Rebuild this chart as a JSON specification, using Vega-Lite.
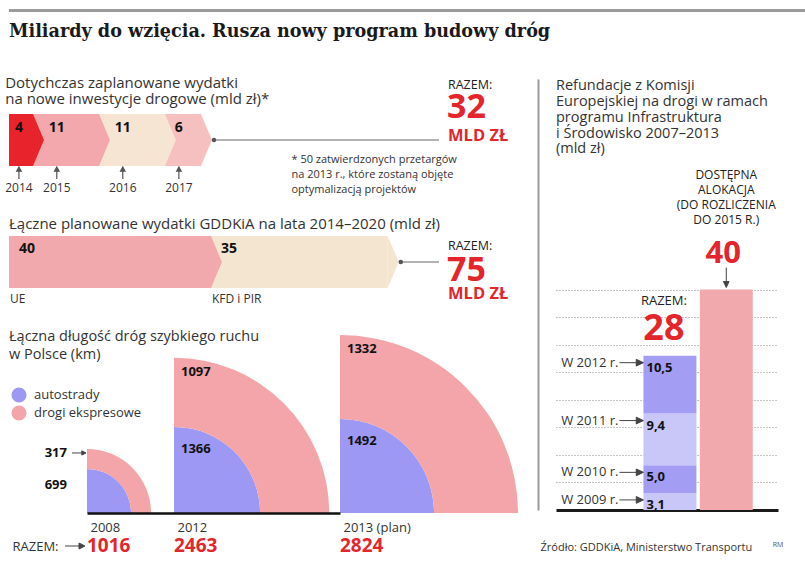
{
  "$schema": "https://vega.github.io/schema/vega-lite/v6.json",
  "padding": {"left": 5, "top": 9, "right": 0, "bottom": 12},
  "background": "white",
  "config": {
    "font": "Open Sans",
    "view": {"stroke": null},
    "title": {"anchor": "start", "font": "Open Sans", "fontWeight": "normal", "color": "#333333", "fontSize": 15},
    "text": {"font": "Open Sans"}
  },
  "datasets": {
    "wydatki2014": [
      {"rok": "2014", "mld": 4, "okres": "2014–2017"},
      {"rok": "2015", "mld": 11, "okres": "2014–2017"},
      {"rok": "2016", "mld": 11, "okres": "2014–2017"},
      {"rok": "2017", "mld": 6, "okres": "2014–2017"}
    ],
    "razem2014": [{"okres": "2014–2017", "razem": 32, "etykieta": "RAZEM:", "jednostka": "MLD ZŁ"}],
    "gddkia": [
      {"zrodlo": "UE", "mld": 40, "kolejnosc": 1, "okres": "2014–2020"},
      {"zrodlo": "KFD i PIR", "mld": 35, "kolejnosc": 2, "okres": "2014–2020"}
    ],
    "razemGddkia": [{"okres": "2014–2020", "razem": 75, "etykieta": "RAZEM:", "jednostka": "MLD ZŁ"}],
    "drogi": [
      {"rok": 2008, "typ": "autostrady", "km": 699},
      {"rok": 2008, "typ": "drogi ekspresowe", "km": 317},
      {"rok": 2012, "typ": "autostrady", "km": 1366},
      {"rok": 2012, "typ": "drogi ekspresowe", "km": 1097},
      {"rok": 2013, "typ": "autostrady", "km": 1492},
      {"rok": 2013, "typ": "drogi ekspresowe", "km": 1332}
    ],
    "refundacje": [
      {"kategoria": "Zrefundowane", "okres": "W 2009 r.", "wartosc": 3.1, "etykieta": "3,1", "kolejnosc": 1},
      {"kategoria": "Zrefundowane", "okres": "W 2010 r.", "wartosc": 5.0, "etykieta": "5,0", "kolejnosc": 2},
      {"kategoria": "Zrefundowane", "okres": "W 2011 r.", "wartosc": 9.4, "etykieta": "9,4", "kolejnosc": 3},
      {"kategoria": "Zrefundowane", "okres": "W 2012 r.", "wartosc": 10.5, "etykieta": "10,5", "kolejnosc": 4},
      {"kategoria": "Dostępna alokacja", "okres": "Dostępna alokacja", "wartosc": 40, "etykieta": "40", "kolejnosc": 1}
    ],
    "razemRefundacje": [{"kategoria": "Zrefundowane", "razem": 28, "etykieta": "RAZEM:"}],
    "alokacja": [{"kategoria": "Dostępna alokacja", "kwota": 40, "opis": "DOSTĘPNA\nALOKACJA\n(DO ROZLICZENIA\nDO 2015 R.)", "autor": "RM"}]
  },
  "bounds": "flush",
  "spacing": 67,
  "resolve": {"scale": {"color": "independent", "radius": "independent"}, "legend": {"color": "independent"}},
  "vconcat": [
    {
      "width": 799,
      "height": 3,
      "data": {"values": [{"linia": "nagłówek"}]},
      "view": {"fill": "#9b9b9b", "stroke": null},
      "mark": {"type": "rect", "color": "#9b9b9b"},
      "encoding": {},
      "title": {"text": "Miliardy do wzięcia. Rusza nowy program budowy dróg", "orient": "bottom", "anchor": "start", "font": "DejaVu Serif", "fontSize": 17.6, "fontWeight": "bold", "color": "#1a1a1a", "offset": 11, "baseline": "top"}
    },
    {
      "bounds": "full",
      "spacing": 19,
      "resolve": {"scale": {"color": "independent", "radius": "independent"}, "legend": {"color": "independent"}},
      "hconcat": [
        {
          "bounds": "flush",
          "spacing": 70,
          "resolve": {"scale": {"color": "independent", "radius": "independent"}, "legend": {"color": "independent"}},
          "vconcat": [
            {
              "width": 439,
              "height": 87,
              "title": {"text": ["Dotychczas zaplanowane wydatki", "na nowe inwestycje drogowe (mld zł)*"], "offset": -28, "lineHeight": 16, "fontSize": 15},
              "layer": [
                {
                  "data": {"name": "wydatki2014"},
                  "mark": {"type": "bar"},
                  "encoding": {
                    "x": {"field": "mld", "type": "quantitative", "stack": "zero", "scale": {"domain": [0, 73.17], "nice": false, "zero": true},
                      "axis": {"title": ["* 50 zatwierdzonych przetargów", "na 2013 r., które zostaną objęte", "optymalizacją projektów"], "labels": false, "ticks": false, "domain": false, "grid": false, "titleX": 282, "titleY": -13, "titleAlign": "left", "titleAnchor": "start", "titleBaseline": "top", "titleFontSize": 11, "titleFontWeight": "normal", "titleLineHeight": 15, "titleColor": "#333333", "titlePadding": 0}},
                    "y": {"field": "okres", "type": "nominal", "scale": {"paddingInner": 0, "paddingOuter": 0.3365, "align": 1}, "axis": null},
                    "color": {"field": "rok", "type": "nominal", "scale": {"domain": ["2014", "2015", "2016", "2017"], "range": ["#e8232b", "#f2a8ac", "#f5e5d2", "#f6bfc0"]}, "legend": null},
                    "order": {"field": "rok"}
                  }
                },
                {
                  "data": {"name": "wydatki2014"},
                  "mark": {"type": "point", "shape": "M0,-1L0.42,0L0,1Z", "size": 2704, "filled": true, "opacity": 1, "strokeWidth": 0},
                  "encoding": {
                    "x": {"field": "mld", "type": "quantitative", "stack": "zero"},
                    "y": {"field": "okres", "type": "nominal", "bandPosition": 0.5, "axis": null},
                    "color": {"field": "rok", "type": "nominal", "legend": null},
                    "order": {"field": "rok"}
                  }
                },
                {
                  "data": {"name": "wydatki2014"},
                  "mark": {"type": "text", "dx": 2, "dy": -12, "fontWeight": "bold", "fontSize": 14, "color": "#111111", "align": "center", "baseline": "middle"},
                  "encoding": {
                    "x": {"field": "mld", "type": "quantitative", "stack": "zero", "bandPosition": 0.33},
                    "y": {"field": "okres", "type": "nominal", "bandPosition": 0.5, "axis": null},
                    "detail": {"field": "rok"},
                    "order": {"field": "rok"},
                    "text": {"field": "mld", "type": "quantitative"}
                  }
                },
                {
                  "data": {"name": "wydatki2014"},
                  "mark": {"type": "text", "dx": 2, "dy": 48.5, "fontSize": 12, "color": "#333333", "align": "center", "baseline": "middle"},
                  "encoding": {
                    "x": {"field": "mld", "type": "quantitative", "stack": "zero", "bandPosition": 0.33},
                    "y": {"field": "okres", "type": "nominal", "bandPosition": 0.5, "axis": null},
                    "detail": {"field": "rok"},
                    "order": {"field": "rok"},
                    "text": {"field": "rok", "type": "nominal"}
                  }
                },
                {
                  "data": {"name": "wydatki2014"},
                  "mark": {"type": "point", "shape": "M0,1L0,-0.4M-0.38,-0.3L0,-1L0.38,-0.3Z", "size": 144, "filled": true, "opacity": 1, "color": "#555555", "stroke": "#555555", "strokeWidth": 1.2, "xOffset": 2, "yOffset": 33},
                  "encoding": {
                    "x": {"field": "mld", "type": "quantitative", "stack": "zero", "bandPosition": 0.33},
                    "y": {"field": "okres", "type": "nominal", "bandPosition": 0.5, "axis": null},
                    "detail": {"field": "rok"},
                    "order": {"field": "rok"}
                  }
                },
                {
                  "data": {"name": "razem2014"},
                  "mark": {"type": "rule", "color": "#666666", "strokeWidth": 1.2, "xOffset": 13, "x2Offset": -9},
                  "encoding": {
                    "x": {"field": "razem", "type": "quantitative"},
                    "x2": {"value": "width"},
                    "y": {"field": "okres", "type": "nominal", "bandPosition": 0.5, "axis": null}
                  }
                },
                {
                  "data": {"name": "razem2014"},
                  "mark": {"type": "point", "filled": true, "opacity": 1, "size": 20, "color": "#555555", "xOffset": 13},
                  "encoding": {
                    "x": {"field": "razem", "type": "quantitative"},
                    "y": {"field": "okres", "type": "nominal", "bandPosition": 0.5, "axis": null}
                  }
                },
                {
                  "data": {"name": "razem2014"},
                  "mark": {"type": "text", "align": "left", "baseline": "middle", "dy": -55, "fontSize": 12.5, "color": "#222222"},
                  "encoding": {
                    "x": {"value": "width"},
                    "y": {"field": "okres", "type": "nominal", "bandPosition": 0.5, "axis": null},
                    "text": {"field": "etykieta"}
                  }
                },
                {
                  "data": {"name": "razem2014"},
                  "mark": {"type": "text", "align": "left", "baseline": "middle", "dy": -31.5, "dx": -1, "fontSize": 34, "fontWeight": "bold", "color": "#e4252b"},
                  "encoding": {
                    "x": {"value": "width"},
                    "y": {"field": "okres", "type": "nominal", "bandPosition": 0.5, "axis": null},
                    "text": {"field": "razem", "type": "quantitative"}
                  }
                },
                {
                  "data": {"name": "razem2014"},
                  "mark": {"type": "text", "align": "left", "baseline": "middle", "dy": -4, "fontSize": 16.5, "fontWeight": "bold", "color": "#e4252b"},
                  "encoding": {
                    "x": {"value": "width"},
                    "y": {"field": "okres", "type": "nominal", "bandPosition": 0.5, "axis": null},
                    "text": {"field": "jednostka"}
                  }
                }
              ]
            },
            {
              "width": 439,
              "height": 52,
              "title": {"text": "Łączne planowane wydatki GDDKiA na lata 2014–2020 (mld zł)", "offset": 4, "fontSize": 15},
              "layer": [
                {
                  "data": {"name": "gddkia"},
                  "mark": {"type": "bar"},
                  "encoding": {
                    "x": {"field": "mld", "type": "quantitative", "stack": "zero", "scale": {"domain": [0, 86.93], "nice": false, "zero": true}, "axis": null},
                    "y": {"field": "okres", "type": "nominal", "scale": {"paddingInner": 0, "paddingOuter": 0}, "axis": null},
                    "color": {"field": "zrodlo", "type": "nominal", "scale": {"domain": ["UE", "KFD i PIR"], "range": ["#f2a9ae", "#f4e5d1"]}, "legend": null},
                    "order": {"field": "kolejnosc"}
                  }
                },
                {
                  "data": {"name": "gddkia"},
                  "mark": {"type": "point", "shape": "M0,-1L0.42,0L0,1Z", "size": 2704, "filled": true, "opacity": 1, "strokeWidth": 0},
                  "encoding": {
                    "x": {"field": "mld", "type": "quantitative", "stack": "zero", "axis": null},
                    "y": {"field": "okres", "type": "nominal", "bandPosition": 0.5, "axis": null},
                    "color": {"field": "zrodlo", "type": "nominal", "legend": null},
                    "order": {"field": "kolejnosc"}
                  }
                },
                {
                  "data": {"name": "gddkia"},
                  "mark": {"type": "text", "align": "left", "baseline": "middle", "dx": 10, "dy": -13, "fontWeight": "bold", "fontSize": 14, "color": "#111111"},
                  "encoding": {
                    "x": {"field": "mld", "type": "quantitative", "stack": "zero", "bandPosition": 0, "axis": null},
                    "y": {"field": "okres", "type": "nominal", "bandPosition": 0.5, "axis": null},
                    "detail": {"field": "zrodlo"},
                    "order": {"field": "kolejnosc"},
                    "text": {"field": "mld", "type": "quantitative"}
                  }
                },
                {
                  "data": {"name": "gddkia"},
                  "mark": {"type": "text", "align": "left", "baseline": "middle", "dx": 1, "dy": 37, "fontSize": 12, "color": "#333333"},
                  "encoding": {
                    "x": {"field": "mld", "type": "quantitative", "stack": "zero", "bandPosition": 0, "axis": null},
                    "y": {"field": "okres", "type": "nominal", "bandPosition": 0.5, "axis": null},
                    "detail": {"field": "zrodlo"},
                    "order": {"field": "kolejnosc"},
                    "text": {"field": "zrodlo"}
                  }
                },
                {
                  "data": {"name": "razemGddkia"},
                  "mark": {"type": "rule", "color": "#666666", "strokeWidth": 1.2, "xOffset": 13, "x2Offset": -9},
                  "encoding": {
                    "x": {"field": "razem", "type": "quantitative", "axis": null},
                    "x2": {"value": "width"},
                    "y": {"field": "okres", "type": "nominal", "bandPosition": 0.5, "axis": null}
                  }
                },
                {
                  "data": {"name": "razemGddkia"},
                  "mark": {"type": "point", "filled": true, "opacity": 1, "size": 20, "color": "#555555", "xOffset": 13},
                  "encoding": {
                    "x": {"field": "razem", "type": "quantitative", "axis": null},
                    "y": {"field": "okres", "type": "nominal", "bandPosition": 0.5, "axis": null}
                  }
                },
                {
                  "data": {"name": "razemGddkia"},
                  "mark": {"type": "text", "align": "left", "baseline": "middle", "dy": -16, "fontSize": 12.5, "color": "#222222"},
                  "encoding": {
                    "x": {"value": "width"},
                    "y": {"field": "okres", "type": "nominal", "bandPosition": 0.5, "axis": null},
                    "text": {"field": "etykieta"}
                  }
                },
                {
                  "data": {"name": "razemGddkia"},
                  "mark": {"type": "text", "align": "left", "baseline": "middle", "dy": 8.5, "dx": -1, "fontSize": 34, "fontWeight": "bold", "color": "#e4252b"},
                  "encoding": {
                    "x": {"value": "width"},
                    "y": {"field": "okres", "type": "nominal", "bandPosition": 0.5, "axis": null},
                    "text": {"field": "razem", "type": "quantitative"}
                  }
                },
                {
                  "data": {"name": "razemGddkia"},
                  "mark": {"type": "text", "align": "left", "baseline": "middle", "dy": 31.5, "fontSize": 16.5, "fontWeight": "bold", "color": "#e4252b"},
                  "encoding": {
                    "x": {"value": "width"},
                    "y": {"field": "okres", "type": "nominal", "bandPosition": 0.5, "axis": null},
                    "text": {"field": "jednostka"}
                  }
                }
              ]
            },
            {
              "width": 510,
              "height": 155,
              "title": {"text": ["Łączna długość dróg szybkiego ruchu", "w Polsce (km)"], "offset": -27, "fontSize": 14.5, "lineHeight": 18},
              "data": {"name": "drogi"},
              "transform": [
                {"stack": "km", "groupby": ["rok"], "sort": [{"field": "typ", "order": "ascending"}], "as": ["km_od", "km_do"]}
              ],
              "layer": [
                {
                  "mark": {"type": "arc", "theta": 0, "theta2": 1.5708},
                  "encoding": {
                    "x": {"field": "rok", "type": "quantitative", "stack": null, "scale": {"domain": [2008, 2012, 2013], "range": [78, 165, 331], "nice": false, "zero": false},
                      "axis": {"values": [2008, 2012, 2013], "format": "d", "labelExpr": "datum.value == 2013 ? '2013 (plan)' : datum.label", "labelAlign": "left", "labelOffset": 3, "labelPadding": 8, "labelFontSize": 13, "labelColor": "#333333", "labelFlush": false, "labelOverlap": false, "ticks": false, "domain": false, "grid": false,
                        "title": "RAZEM:", "titleX": 3, "titleY": 33, "titleAlign": "left", "titleAnchor": "start", "titleBaseline": "middle", "titleFontSize": 13, "titleFontWeight": "normal", "titleColor": "#333333"}},
                    "y": {"datum": 0, "type": "quantitative", "scale": {"domain": [0, 2459], "nice": false, "zero": true},
                      "axis": {"values": [0], "grid": true, "gridColor": "#111111", "gridWidth": 2.5, "gridDash": [], "domain": false, "ticks": false, "labels": false, "title": null, "zindex": 1}},
                    "radius": {"field": "km_do", "type": "quantitative", "scale": {"type": "linear", "domain": [0, 2824], "range": [0, 178], "zero": true, "nice": false}},
                    "radius2": {"field": "km_od"},
                    "color": {"field": "typ", "type": "nominal", "scale": {"domain": ["autostrady", "drogi ekspresowe"], "range": ["#9d98f3", "#f3a5a9"]},
                      "legend": {"title": null, "orient": "none", "legendX": 2, "legendY": 29, "symbolType": "circle", "symbolSize": 227, "symbolStrokeWidth": 0, "labelFontSize": 13, "labelColor": "#333333", "labelFont": "Open Sans", "labelOffset": 7, "rowPadding": 2}}
                  }
                },
                {
                  "transform": [{"filter": "datum.rok != 2008 && datum.typ == 'autostrady'"}],
                  "mark": {"type": "text", "align": "left", "baseline": "middle", "dx": 7, "dy": 22, "fontWeight": "bold", "fontSize": 13, "color": "#111111"},
                  "encoding": {
                    "x": {"field": "rok", "type": "quantitative"},
                    "y": {"field": "km_do", "type": "quantitative"},
                    "text": {"field": "km", "type": "quantitative", "format": "d"}
                  }
                },
                {
                  "transform": [{"filter": "datum.rok != 2008 && datum.typ == 'drogi ekspresowe'"}],
                  "mark": {"type": "text", "align": "left", "baseline": "middle", "dx": 7, "dy": 14, "fontWeight": "bold", "fontSize": 13, "color": "#111111"},
                  "encoding": {
                    "x": {"field": "rok", "type": "quantitative"},
                    "y": {"field": "km_do", "type": "quantitative"},
                    "text": {"field": "km", "type": "quantitative", "format": "d"}
                  }
                },
                {
                  "transform": [{"filter": "datum.rok == 2008 && datum.typ == 'autostrady'"}],
                  "mark": {"type": "text", "align": "right", "baseline": "middle", "dx": -20, "dy": 16, "fontWeight": "bold", "fontSize": 13, "color": "#111111"},
                  "encoding": {
                    "x": {"field": "rok", "type": "quantitative"},
                    "y": {"field": "km_do", "type": "quantitative"},
                    "text": {"field": "km", "type": "quantitative", "format": "d"}
                  }
                },
                {
                  "transform": [{"filter": "datum.rok == 2008 && datum.typ == 'drogi ekspresowe'"}],
                  "mark": {"type": "text", "align": "right", "baseline": "middle", "dx": -20, "dy": 4, "fontWeight": "bold", "fontSize": 13, "color": "#111111"},
                  "encoding": {
                    "x": {"field": "rok", "type": "quantitative"},
                    "y": {"field": "km_do", "type": "quantitative"},
                    "text": {"field": "km", "type": "quantitative", "format": "d"}
                  }
                },
                {
                  "transform": [{"filter": "datum.rok == 2008 && datum.typ == 'drogi ekspresowe'"}],
                  "mark": {"type": "point", "shape": "M-1,0L0.45,0M0.4,-0.3L1,0L0.4,0.3Z", "size": 196, "filled": true, "opacity": 1, "color": "#444444", "stroke": "#444444", "strokeWidth": 1, "xOffset": -8, "yOffset": 4},
                  "encoding": {
                    "x": {"field": "rok", "type": "quantitative"},
                    "y": {"field": "km_do", "type": "quantitative"}
                  }
                },
                {
                  "transform": [{"filter": "datum.typ == 'drogi ekspresowe'"}],
                  "mark": {"type": "text", "align": "left", "baseline": "middle", "dy": 33, "fontWeight": "bold", "fontSize": 19, "color": "#e4252b"},
                  "encoding": {
                    "x": {"field": "rok", "type": "quantitative"},
                    "y": {"datum": 0, "type": "quantitative"},
                    "text": {"field": "km_do", "type": "quantitative", "format": "d"}
                  }
                },
                {
                  "transform": [{"filter": "datum.rok == 2008 && datum.typ == 'drogi ekspresowe'"}],
                  "mark": {"type": "point", "shape": "M-1,0L0.45,0M0.4,-0.3L1,0L0.4,0.3Z", "size": 400, "filled": true, "opacity": 1, "color": "#444444", "stroke": "#444444", "strokeWidth": 1, "xOffset": -12, "yOffset": 33},
                  "encoding": {
                    "x": {"field": "rok", "type": "quantitative"},
                    "y": {"datum": 0, "type": "quantitative"}
                  }
                }
              ]
            }
          ]
        },
        {
          "width": 222,
          "height": 431,
          "title": {"text": ["Refundacje z Komisji", "Europejskiej na drogi w ramach", "programu Infrastruktura", "i Środowisko 2007–2013", "(mld zł)"], "frame": "group", "offset": -78, "fontSize": 14.5, "lineHeight": 15.8},
          "layer": [
            {
              "data": {"name": "refundacje"},
              "mark": {"type": "bar"},
              "encoding": {
                "x": {"field": "kategoria", "type": "nominal", "scale": {"domain": ["Zrefundowane", "Dostępna alokacja"], "paddingInner": 0.06, "paddingOuter": 1.25, "align": 0.776},
                  "axis": {"labels": false, "ticks": false, "domain": true, "domainColor": "#1a1a1a", "domainWidth": 3, "grid": false, "title": "Źródło: GDDKiA, Ministerstwo Transportu", "titleX": -16, "titleY": 37, "titleAlign": "left", "titleAnchor": "start", "titleBaseline": "middle", "titleFontSize": 11, "titleFontWeight": "normal", "titleColor": "#333333"}},
                "y": {"field": "wartosc", "type": "quantitative", "stack": "zero", "scale": {"domain": [0, 78.2], "nice": false, "zero": true},
                  "axis": {"orient": "left", "offset": 18, "domain": true, "domainColor": "#9a9a9a", "domainWidth": 2, "ticks": false, "labels": false, "grid": true, "gridColor": "#8a8a8a", "gridDash": [1, 2], "gridWidth": 1, "values": [5, 10, 15, 20, 25, 30, 35, 40], "title": null}},
                "color": {"field": "okres", "type": "nominal", "scale": {"domain": ["W 2009 r.", "W 2010 r.", "W 2011 r.", "W 2012 r.", "Dostępna alokacja"], "range": ["#c9c6f8", "#a39ef4", "#c9c6f8", "#a39ef4", "#f1a9ae"]}, "legend": null},
                "order": {"field": "kolejnosc"}
              }
            },
            {
              "data": {"name": "refundacje"},
              "transform": [{"filter": "datum.kategoria == 'Zrefundowane'"}],
              "mark": {"type": "text", "align": "left", "baseline": "middle", "dx": 3, "dy": 12, "fontWeight": "bold", "fontSize": 13, "color": "#111111"},
              "encoding": {
                "x": {"field": "kategoria", "type": "nominal", "bandPosition": 0},
                "y": {"field": "wartosc", "type": "quantitative", "stack": "zero"},
                "detail": {"field": "okres"},
                "order": {"field": "kolejnosc"},
                "text": {"field": "etykieta"}
              }
            },
            {
              "data": {"name": "refundacje"},
              "transform": [{"filter": "datum.kategoria == 'Zrefundowane'"}],
              "mark": {"type": "text", "align": "right", "baseline": "middle", "dx": -25, "dy": 7, "fontSize": 13, "color": "#333333"},
              "encoding": {
                "x": {"field": "kategoria", "type": "nominal", "bandPosition": 0},
                "y": {"field": "wartosc", "type": "quantitative", "stack": "zero"},
                "detail": {"field": "okres"},
                "order": {"field": "kolejnosc"},
                "text": {"field": "okres"}
              }
            },
            {
              "data": {"name": "refundacje"},
              "transform": [{"filter": "datum.kategoria == 'Zrefundowane'"}],
              "mark": {"type": "point", "shape": "M-1,0L0.45,0M0.4,-0.28L1,0L0.4,0.28Z", "size": 576, "filled": true, "opacity": 1, "color": "#444444", "stroke": "#444444", "strokeWidth": 1, "xOffset": -12, "yOffset": 7},
              "encoding": {
                "x": {"field": "kategoria", "type": "nominal", "bandPosition": 0},
                "y": {"field": "wartosc", "type": "quantitative", "stack": "zero"},
                "detail": {"field": "okres"},
                "order": {"field": "kolejnosc"}
              }
            },
            {
              "data": {"name": "razemRefundacje"},
              "mark": {"type": "text", "align": "center", "baseline": "middle", "dx": -6, "dy": -55, "fontSize": 13, "color": "#222222"},
              "encoding": {
                "x": {"field": "kategoria", "type": "nominal"},
                "y": {"field": "razem", "type": "quantitative"},
                "text": {"field": "etykieta"}
              }
            },
            {
              "data": {"name": "razemRefundacje"},
              "mark": {"type": "text", "align": "center", "baseline": "middle", "dx": -6, "dy": -26.5, "fontSize": 36, "fontWeight": "bold", "color": "#e4252b"},
              "encoding": {
                "x": {"field": "kategoria", "type": "nominal"},
                "y": {"field": "razem", "type": "quantitative"},
                "text": {"field": "razem", "type": "quantitative"}
              }
            },
            {
              "data": {"name": "alokacja"},
              "mark": {"type": "text", "align": "center", "baseline": "top", "dy": -120, "lineBreak": "\n", "lineHeight": 15.3, "fontSize": 12, "color": "#222222"},
              "encoding": {
                "x": {"field": "kategoria", "type": "nominal"},
                "y": {"field": "kwota", "type": "quantitative"},
                "text": {"field": "opis"}
              }
            },
            {
              "data": {"name": "alokacja"},
              "mark": {"type": "text", "align": "center", "baseline": "middle", "dx": -3, "dy": -36, "fontSize": 31, "fontWeight": "bold", "color": "#e4252b"},
              "encoding": {
                "x": {"field": "kategoria", "type": "nominal"},
                "y": {"field": "kwota", "type": "quantitative"},
                "text": {"field": "kwota", "type": "quantitative"}
              }
            },
            {
              "data": {"name": "alokacja"},
              "mark": {"type": "point", "shape": "M0,-1L0,0.45M-0.28,0.4L0,1L0.28,0.4Z", "size": 400, "filled": true, "opacity": 1, "color": "#444444", "stroke": "#444444", "strokeWidth": 1, "yOffset": -12},
              "encoding": {
                "x": {"field": "kategoria", "type": "nominal"},
                "y": {"field": "kwota", "type": "quantitative"}
              }
            },
            {
              "data": {"name": "alokacja"},
              "mark": {"type": "text", "align": "left", "baseline": "middle", "dx": 20, "dy": 35, "fontSize": 7, "color": "#555555"},
              "encoding": {
                "x": {"field": "kategoria", "type": "nominal", "bandPosition": 1},
                "y": {"datum": 0, "type": "quantitative"},
                "text": {"field": "autor"}
              }
            }
          ]
        }
      ]
    }
  ]
}
